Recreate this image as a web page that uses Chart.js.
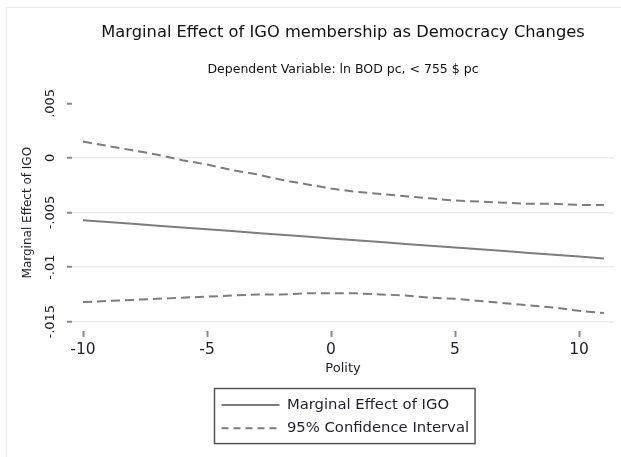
<!DOCTYPE html>
<html>
<head>
<meta charset="utf-8">
<script src="https://cdn.jsdelivr.net/npm/chart.js@4/dist/chart.umd.min.js"></script>
<style>
  html, body { margin: 0; padding: 0; background: #fff; }
  #wrap { width: 621px; height: 457px; }
</style>
</head>
<body>
<div id="wrap"><canvas id="c" width="621" height="457"></canvas></div>
<script>
// Polity score and the estimated marginal effect of IGO membership
const polity = [-10, -9, -8, -7, -6, -5, -4, -3, -2, -1, 0, 1, 2, 3, 4, 5, 6, 7, 8, 9, 10, 11];
const marginalEffect = [-0.0057, -0.00587, -0.00603, -0.0062, -0.00637, -0.00653, -0.0067, -0.00687,
  -0.00703, -0.0072, -0.00737, -0.00753, -0.0077, -0.00787, -0.00803, -0.0082, -0.00837, -0.00853,
  -0.0087, -0.00887, -0.00903, -0.0092];
const ciUpper = [0.0015, 0.0011, 0.0007, 0.0003, -0.0002, -0.0006, -0.0011, -0.0015, -0.0020, -0.0024,
  -0.0028, -0.0031, -0.0033, -0.0035, -0.0037, -0.0039, -0.0040, -0.0041, -0.0042, -0.0042, -0.0043, -0.0043];
const ciLower = [-0.0132, -0.0131, -0.0130, -0.0129, -0.0128, -0.0127, -0.0126, -0.0125, -0.0125, -0.0124,
  -0.0124, -0.0124, -0.0125, -0.0126, -0.0128, -0.0129, -0.0131, -0.0133, -0.0135, -0.0137, -0.0140, -0.0142];

const xTicks = [-10, -5, 0, 5, 10];
const yTicks = [0.005, 0, -0.005, -0.01, -0.015];
const yTickLabels = ['.005', '0', '-.005', '-.01', '-.015'];

const legendLabels = ['Marginal Effect of IGO', '95% Confidence Interval'];

const LINE = '#7d7d7d';
const TEXT = '#1f1f2a';
const FONT = 'DejaVu Sans';

const pts = (ys) => polity.map((x, i) => ({ x: x, y: ys[i] }));

// faint frame along the top and left edges
const framePlugin = {
  id: 'frame',
  beforeDraw(chart) {
    const ctx = chart.ctx;
    ctx.save();
    ctx.fillStyle = '#fff';
    ctx.fillRect(0, 0, chart.width, chart.height);
    ctx.strokeStyle = '#efefef';
    ctx.lineWidth = 1.5;
    ctx.beginPath();
    ctx.moveTo(6.5, chart.height);
    ctx.lineTo(6.5, 7.5);
    ctx.lineTo(chart.width, 7.5);
    ctx.stroke();
    ctx.restore();
  }
};

// put the legend below the axis and draw a box around it
const legendBoxPlugin = {
  id: 'legendBox',
  afterLayout(chart) {
    const lg = chart.legend;
    if (!lg) return;
    lg.left = 213;
    lg.top = 389;
    lg.right = lg.left + lg.width;
    lg.bottom = lg.top + lg.height;
  },
  afterDraw(chart) {
    const lg = chart.legend;
    if (!lg || !lg.legendHitBoxes || !lg.legendHitBoxes.length) return;
    const hb = lg.legendHitBoxes;
    let right = 0, bottom = 0;
    hb.forEach(h => { right = Math.max(right, h.left + h.width); bottom = Math.max(bottom, h.top + h.height); });
    const ctx = chart.ctx;
    ctx.save();
    ctx.strokeStyle = '#555';
    ctx.lineWidth = 1.5;
    ctx.strokeRect(lg.left + 1.5, lg.top - 0.5, right + 6 - (lg.left + 1.5), bottom + 8 - (lg.top - 0.5));
    ctx.restore();
  }
};

new Chart(document.getElementById('c'), {
  type: 'line',
  data: {
    datasets: [
      { label: legendLabels[0], data: pts(marginalEffect), borderColor: LINE, borderWidth: 2,
        pointRadius: 0, tension: 0, fill: false },
      { label: legendLabels[1], data: pts(ciUpper), borderColor: LINE, borderWidth: 2,
        borderDash: [9, 5], pointRadius: 0, tension: 0, fill: false },
      { label: legendLabels[1], data: pts(ciLower), borderColor: LINE, borderWidth: 2,
        borderDash: [9, 5], pointRadius: 0, tension: 0, fill: false }
    ]
  },
  options: {
    responsive: false,
    animation: false,
    events: [],
    layout: { padding: { left: 10, right: 7, top: 0, bottom: 80 } },
    scales: {
      x: {
        type: 'linear',
        min: -10.444,
        max: 11.41,
        afterBuildTicks: (s) => { s.ticks = xTicks.map(v => ({ value: v })); },
        afterFit: (s) => { s.height = 46; },
        border: { display: false },
        grid: { drawOnChartArea: false, drawTicks: true, tickLength: 6, tickWidth: 2, tickColor: '#8a8a8a' },
        ticks: { font: { family: FONT, size: 15.5 }, color: TEXT, padding: 4, maxRotation: 0,
          callback: (v) => String(v) },
        title: { display: true, text: 'Polity', font: { family: FONT, size: 13 }, color: TEXT,
          padding: { top: 0, bottom: 1 } }
      },
      y: {
        type: 'linear',
        min: -0.01585,
        max: 0.005826,
        afterBuildTicks: (s) => { s.ticks = yTicks.map(v => ({ value: v })); },
        afterFit: (s) => { s.width = 62; },
        border: { display: false },
        grid: {
          drawTicks: true, tickLength: 5, tickWidth: 2, tickColor: '#8a8a8a', lineWidth: 1.5,
          color: (ctx) => (ctx.tick && ctx.tick.value === yTicks[0]) ? 'rgba(0,0,0,0)' : '#ececec'
        },
        ticks: {
          font: { family: FONT, size: 13 }, color: TEXT, padding: 0,
          minRotation: 90, maxRotation: 90, crossAlign: 'center',
          callback: (v) => { const i = yTicks.indexOf(v); return i >= 0 ? yTickLabels[i] : ''; }
        },
        title: { display: true, text: 'Marginal Effect of IGO', font: { family: FONT, size: 12 }, color: TEXT,
          padding: { top: 11, bottom: 0 } }
      }
    },
    plugins: {
      title: {
        display: true,
        fullSize: false,
        text: 'Marginal Effect of IGO membership as Democracy Changes',
        font: { family: FONT, size: 16.3, weight: 'normal' }, color: '#111',
        padding: { top: 23, bottom: 10 }
      },
      subtitle: {
        display: true,
        fullSize: false,
        text: 'Dependent Variable: ln BOD pc, < 755 $ pc',
        font: { family: FONT, size: 12.5, weight: 'normal' }, color: '#111',
        padding: { top: 9.3, bottom: 17.5 }
      },
      legend: {
        display: true,
        position: 'chartArea',
        align: 'start',
        maxHeight: 60,
        labels: {
          usePointStyle: true,
          pointStyleWidth: 58,
          padding: 8.5,
          font: { family: FONT, size: 14.8 },
          color: TEXT,
          generateLabels: () => [
            { text: legendLabels[0], strokeStyle: LINE, fillStyle: 'rgba(0,0,0,0)', lineWidth: 2,
              lineDash: [], pointStyle: 'line', fontColor: TEXT, hidden: false, datasetIndex: 0 },
            { text: legendLabels[1], strokeStyle: LINE, fillStyle: 'rgba(0,0,0,0)', lineWidth: 2,
              lineDash: [7, 5], pointStyle: 'line', fontColor: TEXT, hidden: false, datasetIndex: 1 }
          ]
        }
      },
      tooltip: { enabled: false }
    }
  },
  plugins: [framePlugin, legendBoxPlugin]
});
</script>
</body>
</html>
